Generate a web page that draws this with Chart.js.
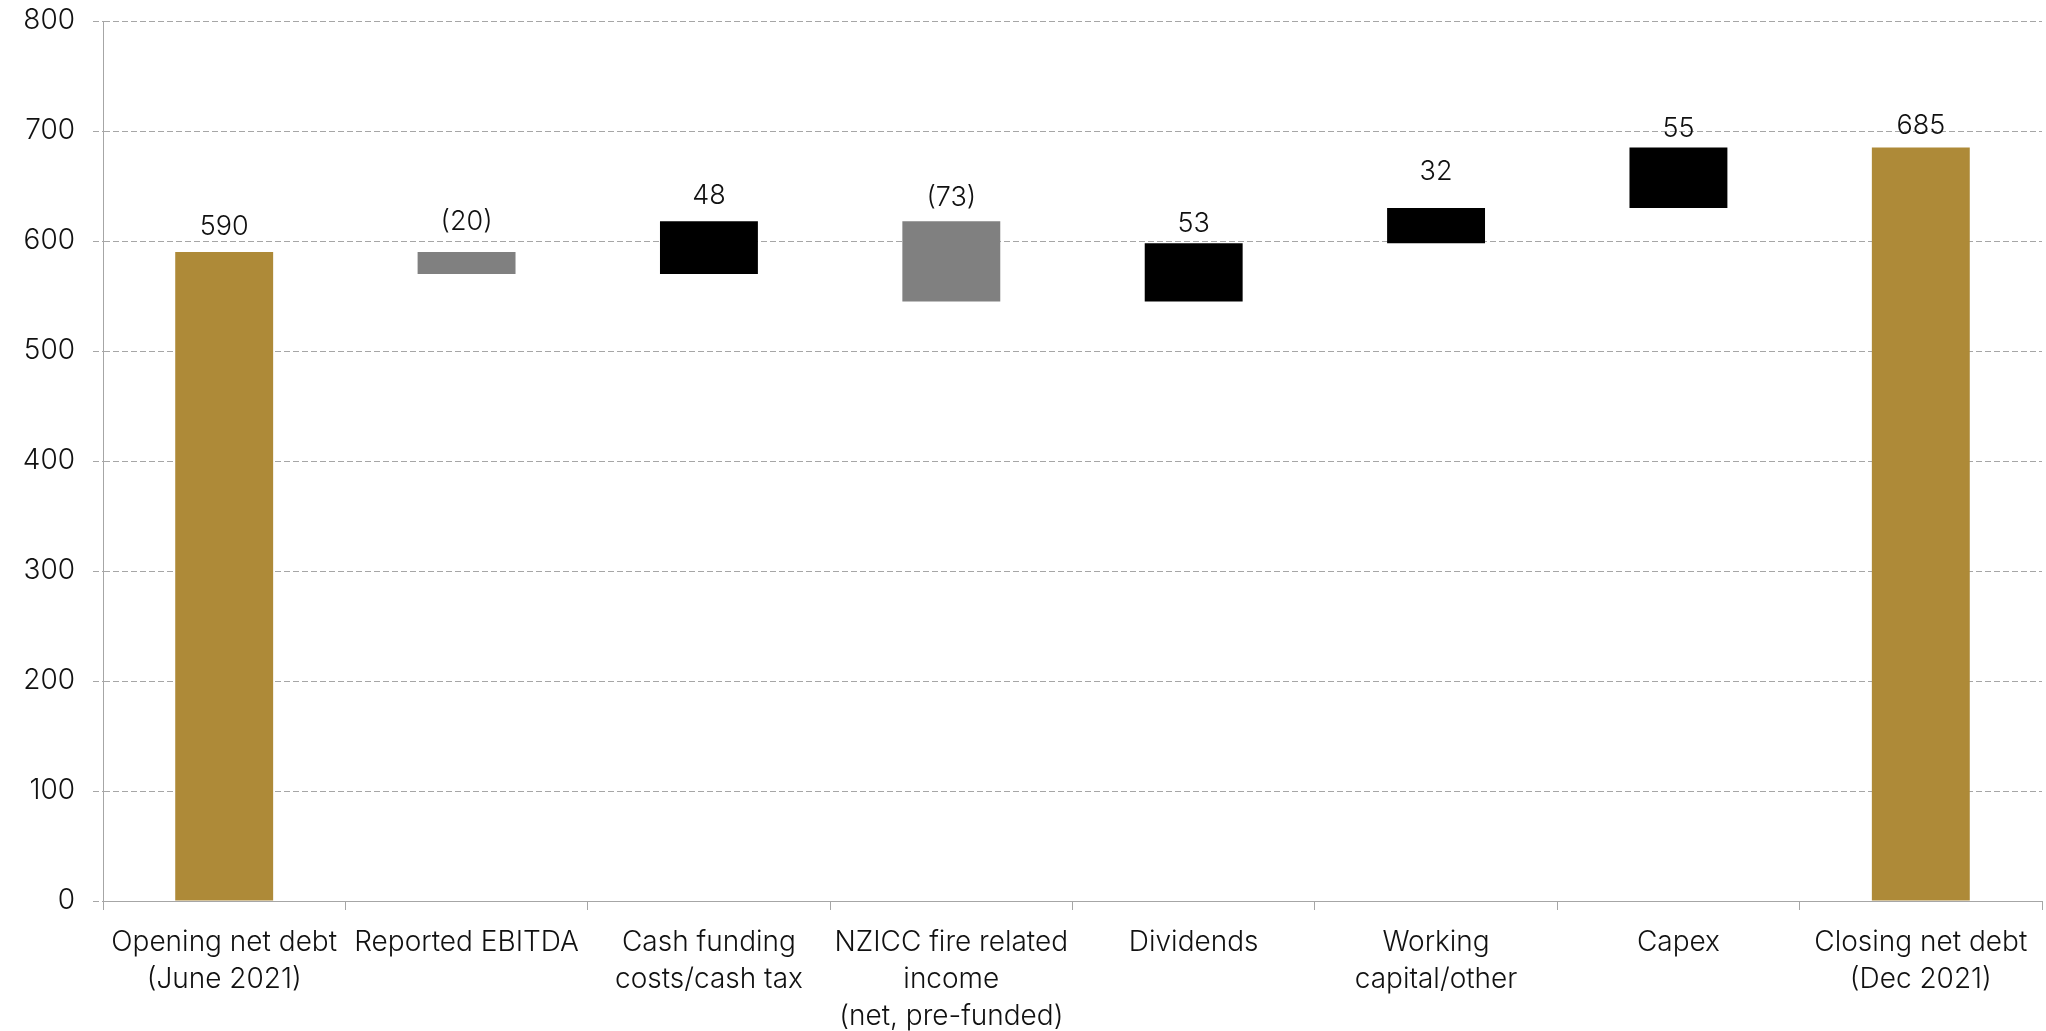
<!DOCTYPE html>
<html>
<head>
<meta charset="utf-8">
<title>Net debt bridge</title>
<script src="https://cdn.jsdelivr.net/npm/chart.js@4.4.1/dist/chart.umd.min.js"></script>
<style>
  html, body { margin: 0; padding: 0; background: #fff; }
  #wrap { width: 2046px; height: 1031px; }
</style>
</head>
<body>
<div id="wrap"><canvas id="bridgeChart" width="2046" height="1031"></canvas></div>
<script>
// Net debt walk, June 2021 -> Dec 2021 ($m)
const categories = [
  ['Opening net debt', '(June 2021)'],
  'Reported EBITDA',
  ['Cash funding', 'costs/cash tax'],
  ['NZICC fire related', 'income', '(net, pre-funded)'],
  'Dividends',
  ['Working', 'capital/other'],
  'Capex',
  ['Closing net debt', '(Dec 2021)']
];
const openingDebt = 590;
const movements = [-20, 48, -73, 53, 32, 55];
const closingDebt = 685;
const yTicks = [0, 100, 200, 300, 400, 500, 600, 700, 800];

// hand-placed gap (px) between each value label and its bar
const labelGap = [12, 17, 12, 10, 6, 23, 5, 8];

const GOLD = '#AE8A38';
const GREY = '#808080';
const BLACK = '#000000';
const AXIS = '#A6A6A6';
const FONT = 'Inter, "Open Sans", sans-serif';

// build floating ranges for the waterfall
const ranges = [[0, openingDebt]];
const values = [openingDebt];
const colors = [GOLD];
let running = openingDebt;
movements.forEach(function (m) {
  ranges.push([running, running + m]);
  values.push(m);
  colors.push(m < 0 ? GREY : BLACK);
  running += m;
});
ranges.push([0, closingDebt]);
values.push(closingDebt);
colors.push(GOLD);

function fmt(v) {
  return v < 0 ? '(' + Math.abs(v) + ')' : String(v);
}

// value labels above each bar
const barLabels = {
  id: 'barLabels',
  afterDatasetsDraw: function (chart) {
    const ctx = chart.ctx;
    const meta = chart.getDatasetMeta(0);
    ctx.save();
    ctx.font = '300 27px ' + FONT;
    ctx.fillStyle = '#111';
    ctx.textAlign = 'center';
    ctx.textBaseline = 'bottom';
    meta.data.forEach(function (bar, i) {
      const top = Math.min(bar.y, bar.base);
      ctx.fillText(fmt(values[i]), bar.x, top - labelGap[i]);
    });
    ctx.restore();
  }
};

// solid left axis line (the y border option dashes the grid lines)
const yAxisLine = {
  id: 'yAxisLine',
  afterDraw: function (chart) {
    const a = chart.chartArea;
    const ctx = chart.ctx;
    ctx.save();
    ctx.strokeStyle = AXIS;
    ctx.lineWidth = 1;
    ctx.setLineDash([]);
    ctx.beginPath();
    ctx.moveTo(Math.round(a.left) + 0.5, a.top);
    ctx.lineTo(Math.round(a.left) + 0.5, a.bottom);
    ctx.stroke();
    ctx.restore();
  }
};

const ctx = document.getElementById('bridgeChart').getContext('2d');
new Chart(ctx, {
  type: 'bar',
  data: {
    labels: categories,
    datasets: [{
      data: ranges,
      backgroundColor: colors,
      borderWidth: 0,
      categoryPercentage: 1,
      barPercentage: 0.404
    }]
  },
  options: {
    responsive: false,
    animation: false,
    layout: { padding: { top: 21, right: 4, left: 0, bottom: 0 } },
    plugins: {
      legend: { display: false },
      tooltip: { enabled: false }
    },
    scales: {
      x: {
        offset: true,
        grid: {
          offset: true,
          drawOnChartArea: false,
          drawTicks: true,
          tickLength: 9,
          color: AXIS,
          lineWidth: 1
        },
        border: { color: AXIS, width: 1 },
        ticks: {
          maxRotation: 0,
          autoSkip: false,
          padding: 14,
          color: '#111',
          font: { family: FONT, size: 28, weight: 300, lineHeight: '37px' }
        },
        afterFit: function (scale) {
          scale.height = 130;
          scale.paddingLeft = 0;
          scale.paddingRight = 0;
        }
      },
      y: {
        min: 0,
        max: 800,
        afterBuildTicks: function (scale) {
          scale.ticks = yTicks.map(function (v) { return { value: v }; });
        },
        grid: {
          color: AXIS,
          lineWidth: 1,
          tickBorderDash: [6, 3],
          drawTicks: true,
          tickLength: 10
        },
        border: { color: AXIS, width: 1, dash: [6, 3] },
        ticks: {
          padding: 18,
          color: '#111',
          font: { family: FONT, size: 28, weight: 300 }
        },
        afterFit: function (scale) {
          scale.width = 103;
          scale.paddingTop = 0;
          scale.paddingBottom = 0;
        }
      }
    }
  },
  plugins: [barLabels, yAxisLine]
});
</script>
</body>
</html>
